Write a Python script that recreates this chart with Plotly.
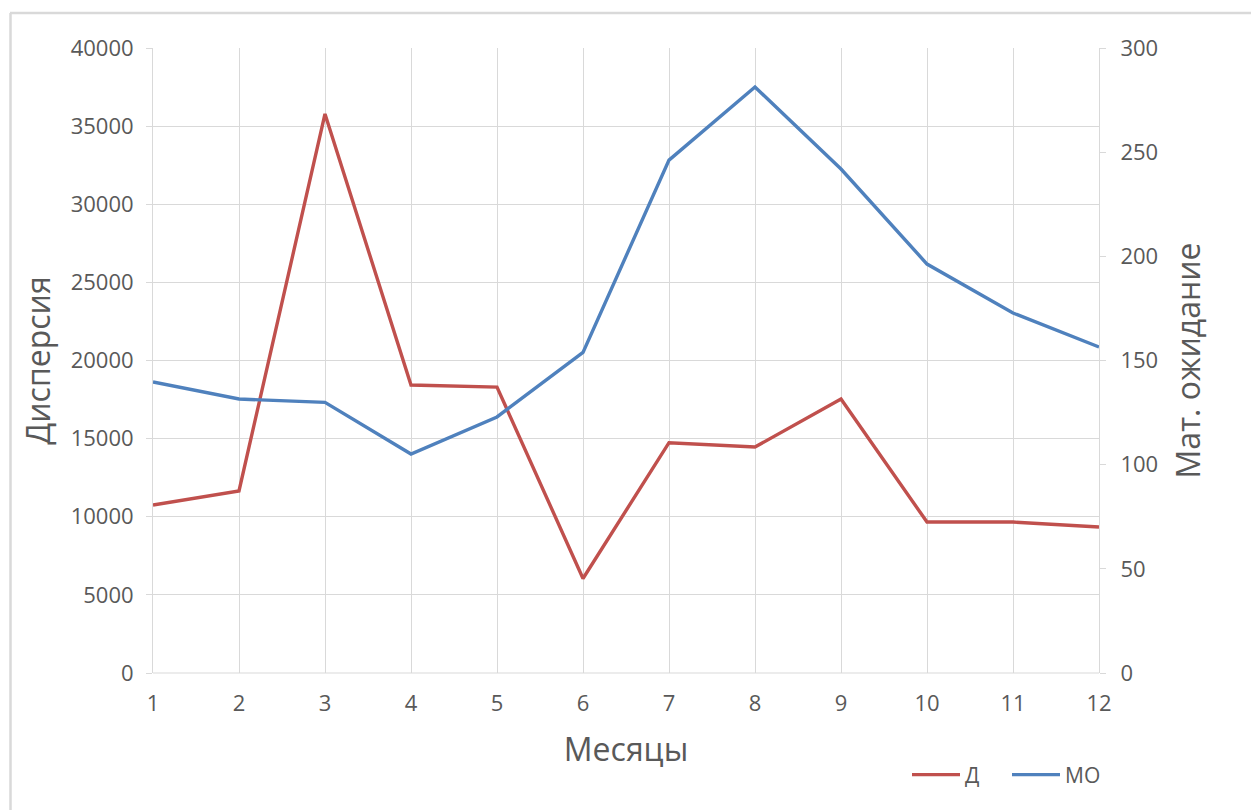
import plotly.graph_objects as go

# Monthly data
months = [1, 2, 3, 4, 5, 6, 7, 8, 9, 10, 11, 12]
dispersion = [10750, 11650, 35780, 18430, 18300, 6050, 14740, 14460, 17540, 9660, 9660, 9340]
expectation = [139.7, 131.5, 129.9, 105.1, 122.9, 153.9, 246.2, 281.3, 241.9, 196.3, 172.8, 156.5]

W, H = 1251, 810
ML, MR, MT, MB = 153, 152, 48, 137
PW, PH = W - ML - MR, H - MT - MB

def px_x(x):
    return (x - ML) / PW

def px_y(y):
    return (H - MB - y) / PH

TXT = "#595959"
GRID = "#d9d9d9"
FONT = "Open Sans, Liberation Sans, Arial, sans-serif"

fig = go.Figure()
fig.add_trace(go.Scatter(x=months, y=dispersion, name="Д", mode="lines",
                         line=dict(color="#c0504d", width=3.4), yaxis="y"))
fig.add_trace(go.Scatter(x=months, y=expectation, name="МО", mode="lines",
                         line=dict(color="#4f81bd", width=3.4), yaxis="y2"))

fig.update_layout(
    width=W, height=H,
    margin=dict(l=ML, r=MR, t=MT, b=MB, autoexpand=False),
    paper_bgcolor="white", plot_bgcolor="white",
    font=dict(family=FONT, color=TXT, size=19),
    xaxis=dict(
        range=[1, 12], tickvals=months, ticktext=[str(m) for m in months],
        showgrid=True, gridcolor=GRID, gridwidth=1,
        showline=False, zeroline=False, ticks="",
        tickfont=dict(size=22, color=TXT), ticklabelstandoff=15,
        title=dict(text="Месяцы", font=dict(size=32, color=TXT), standoff=22),
    ),
    yaxis=dict(
        range=[0, 40000], tick0=0, dtick=5000, tickformat="d",
        showgrid=True, gridcolor=GRID, gridwidth=1,
        showline=True, linecolor=GRID, linewidth=1, zeroline=False,
        ticks="outside", ticklen=6, tickcolor=GRID,
        tickfont=dict(size=22, color=TXT), ticklabelstandoff=8,
        title=dict(text="Дисперсия", font=dict(size=32, color=TXT), standoff=10),
    ),
    yaxis2=dict(
        range=[0, 300], tick0=0, dtick=50, overlaying="y", side="right",
        showgrid=False, showline=True, linecolor=GRID, linewidth=1, zeroline=False,
        ticks="outside", ticklen=6, tickcolor=GRID,
        tickfont=dict(size=22, color=TXT), ticklabelstandoff=10,
        title=dict(text="Мат. ожидание", font=dict(size=32, color=TXT), standoff=20),
    ),
    legend=dict(orientation="h", x=px_x(907), y=px_y(775), yanchor="middle", xanchor="left",
                font=dict(size=21, color=TXT), bgcolor="rgba(0,0,0,0)",
                entrywidth=37, entrywidthmode="pixels", itemwidth=48, tracegroupgap=0),
    showlegend=True,
)

# bottom axis line
fig.add_shape(type="line", xref="paper", yref="paper", x0=0, x1=1, y0=0, y1=0,
              line=dict(color=GRID, width=1))
# outer frame edges
fig.add_shape(type="line", xref="paper", yref="paper",
              x0=px_x(10), x1=px_x(W + 5), y0=px_y(13), y1=px_y(13),
              line=dict(color=GRID, width=2.5))
fig.add_shape(type="line", xref="paper", yref="paper",
              x0=px_x(10.5), x1=px_x(10.5), y0=px_y(13), y1=px_y(H + 5),
              line=dict(color=GRID, width=2.5))

fig.write_html("out.html")
